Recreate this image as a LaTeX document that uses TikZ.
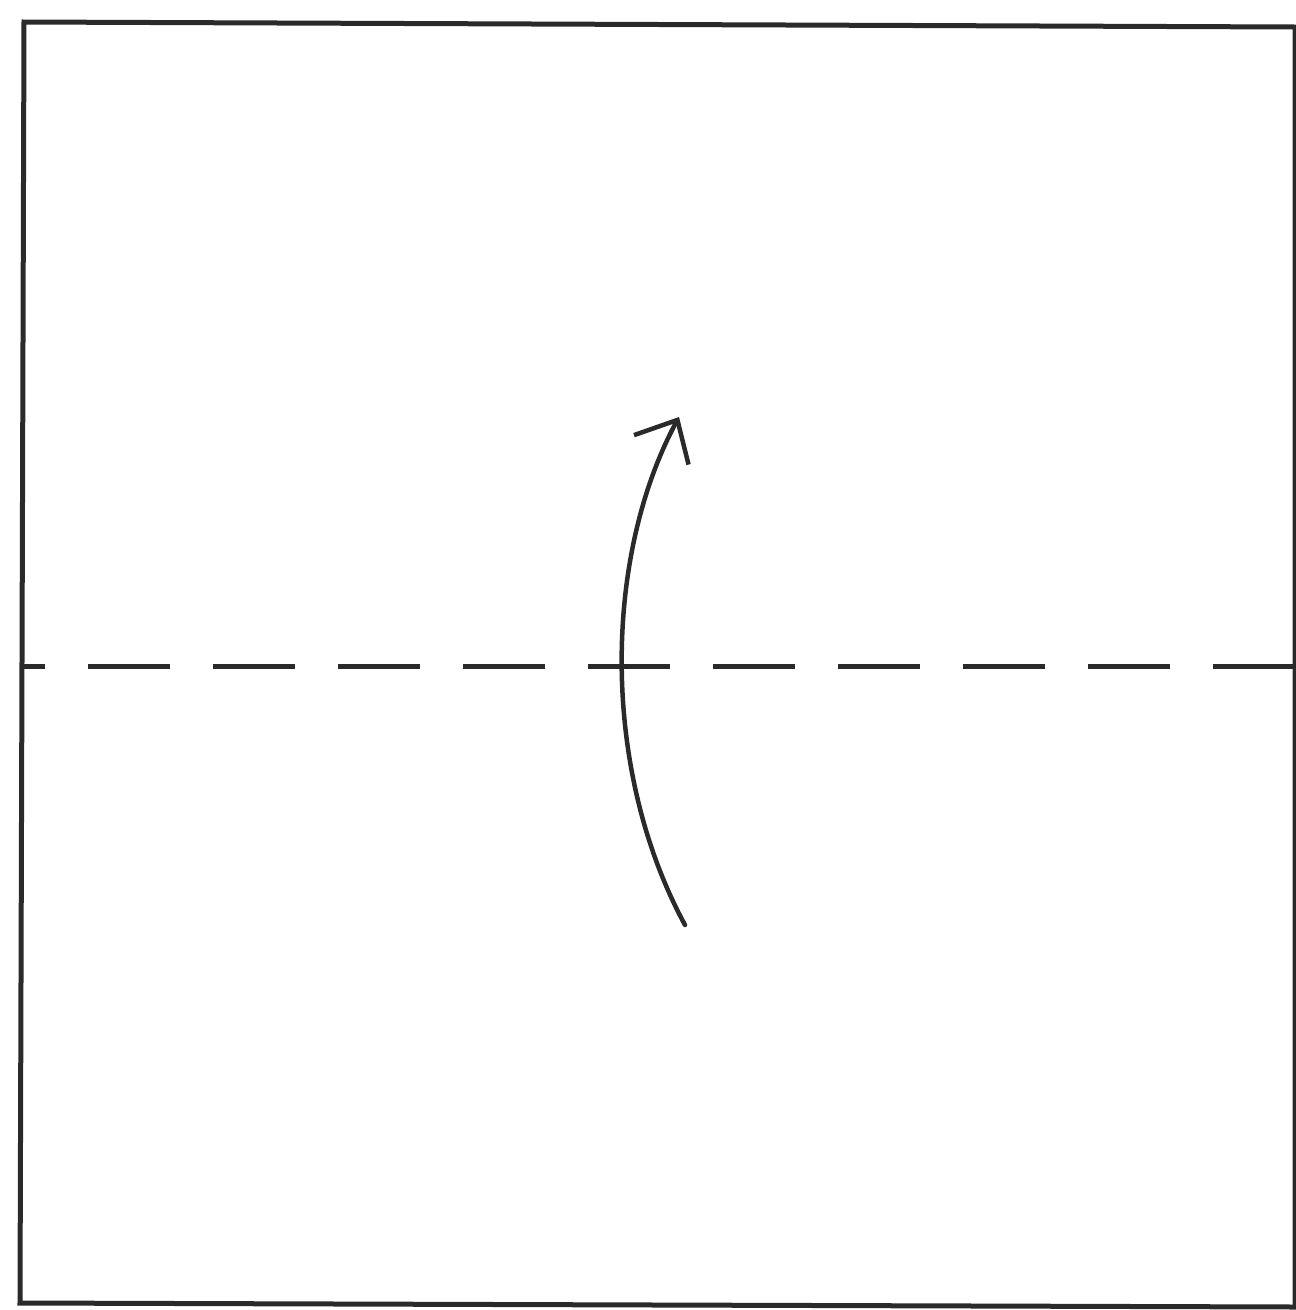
\documentclass[tikz,border=0pt]{standalone}
\usepackage{tikz}
\usetikzlibrary{arrows.meta}
\definecolor{foldink}{HTML}{2a2a2a}

\begin{document}
\begin{tikzpicture}[
  x=1pt, y=-1pt,
  paper/.style={draw=foldink, line width=5pt, line join=miter},
  valley/.style={draw=foldink, line width=5pt, dash pattern=on 82pt off 43pt, dash phase=59pt},
  foldarrow/.style={draw=foldink, line width=4.5pt, line cap=round,
    -{Straight Barb[length=34pt, width=62pt, line width=4.5pt]}}
]
\useasboundingbox (0,0) rectangle (1296,1310);

% the sheet
\coordinate (tl) at (24,22);
\coordinate (tr) at (1295,27);
\coordinate (br) at (1295,1307);
\coordinate (bl) at (20,1303);
\draw[paper] (tl) -- (tr) -- (br) -- (bl) -- cycle;

% fold line
\coordinate (foldL) at (22,666);
\coordinate (foldR) at (1296,666);
\draw[valley] (foldL) -- (foldR);

% fold up
\coordinate (from) at (685,925);
\coordinate (to) at (679,417);
\draw[foldarrow] (from) .. controls (600,768) and (604,556) .. (to);
\end{tikzpicture}
\end{document}
